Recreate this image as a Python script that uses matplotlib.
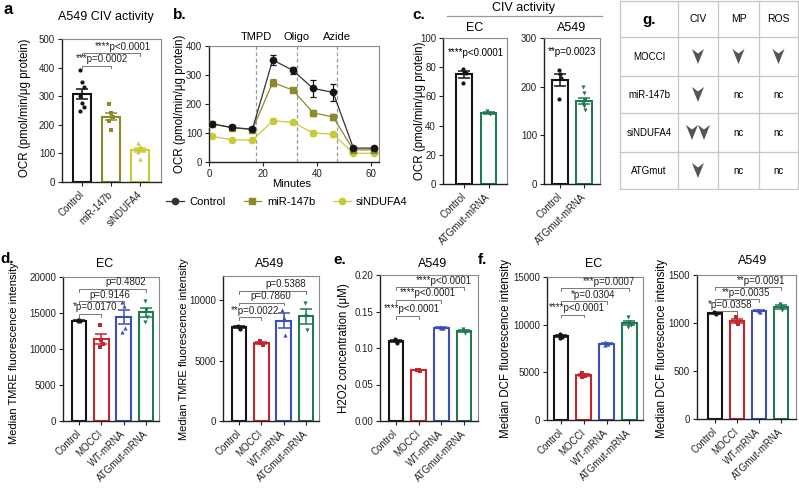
import numpy as np
import matplotlib
matplotlib.use("Agg")
import matplotlib.pyplot as plt
from matplotlib.lines import Line2D
from matplotlib.patches import Polygon

plt.rcParams["font.family"] = ["Liberation Sans", "DejaVu Sans"]

# ── Colours ────────────────────────────────────────
BLACK  = "#151515"
RED    = "#c1272d"
BLUE   = "#3c4fb5"
GREEN  = "#1f7a53"
OLIVE  = "#8c8a2c"
YELLOW = "#c8ca38"
GREY   = "#777777"

# ── Panel a : A549 CIV activity ───────────────────
A_LABELS = ["Control", "miR-147b", "siNDUFA4"]
A_MEANS  = [307, 229, 113]
A_SEMS   = [17, 12, 7]
A_POINTS = [[392, 348, 333, 299, 276, 262, 247],
            [273, 243, 228, 215, 182],
            [136, 126, 116, 104, 80]]
A_BRACKETS = [(0, 1, "***p=0.0002", 407), (0, 2, "****p<0.0001", 450)]

# ── Panel b : OCR time course ──────────────────────
B_TIME     = [1.1, 8.5, 16.1, 23.6, 31.1, 38.5, 46.0, 53.5, 61.0]
B_CONTROL  = [132, 119, 113, 352, 316, 254, 240, 48, 48]
B_CONT_ERR = [4, 4, 4, 18, 12, 30, 28, 4, 4]
B_MIR      = [131, 118, 112, 274, 248, 170, 155, 42, 42]
B_MIR_ERR  = [3, 3, 3, 12, 8, 10, 10, 3, 3]
B_SI       = [88, 77, 75, 142, 137, 100, 96, 30, 30]
B_SI_ERR   = [3, 3, 3, 8, 6, 10, 9, 2, 2]
B_INJECT   = [("TMPD", 17.4), ("Oligo", 32.6), ("Azide", 47.4)]

# ── Panel c : CIV activity EC / A549 ───────────────
C_LABELS     = ["Control", "ATGmut-mRNA"]
C_EC_MEANS   = [75, 48.5]
C_EC_SEMS    = [2.2, 0.8]
C_EC_POINTS  = [[78.5, 77, 76, 69.5], [50, 48.8, 47.8]]
C_A549_MEANS = [213, 171]
C_A549_SEMS  = [12, 6]
C_A549_POINTS = [[235, 225, 218, 175], [200, 188, 172, 165, 160, 153]]

# ── Panels d-f : MOCCI / WT / ATGmut ───────────────
G_LABELS = ["Control", "MOCCI", "WT-mRNA", "ATGmut-mRNA"]

D_EC_MEANS  = [13950, 11400, 14450, 15100]
D_EC_SEMS   = [80, 700, 950, 600]
D_EC_POINTS = [[14050, 13980, 13920, 13860], [13300, 11300, 10700, 10300],
               [16500, 16000, 12900, 12400], [16700, 15400, 14500, 13800]]
D_EC_BRACKETS = [(0, 1, "*p=0.0170", 14900), (0, 2, "p=0.9146", 16650),
                 (0, 3, "p=0.4802", 18350)]

D_A549_MEANS  = [7750, 6450, 8300, 8650]
D_A549_SEMS   = [80, 90, 620, 650]
D_A549_POINTS = [[7850, 7750, 7650], [6600, 6450, 6300],
                 [9200, 8550, 7150], [9750, 8700, 7500]]
D_A549_BRACKETS = [(0, 1, "**p=0.0022", 8570), (0, 2, "p=0.7860", 9800),
                   (0, 3, "p=0.5388", 10770)]

E_MEANS  = [0.110, 0.0698, 0.128, 0.1235]
E_SEMS   = [0.0015, 0.0005, 0.0007, 0.0018]
E_POINTS = [[0.113, 0.110, 0.107], [0.0705, 0.0698, 0.069],
            [0.129, 0.128, 0.127], [0.126, 0.1235, 0.121]]
E_BRACKETS = [(0, 1, "****p<0.0001", 0.144), (0, 2, "****p<0.0001", 0.166),
              (0, 3, "****p<0.0001", 0.183)]

F_EC_MEANS  = [8800, 4700, 8000, 10200]
F_EC_SEMS   = [100, 80, 70, 230]
F_EC_POINTS = [[9050, 8850, 8750, 8550], [4900, 4750, 4600, 4550],
               [8150, 8050, 7950, 7850], [10800, 10300, 9950, 9800]]
F_EC_BRACKETS = [(0, 1, "****p<0.0001", 11060), (0, 2, "*p=0.0304", 12450),
                 (0, 3, "***p=0.0007", 13850)]

F_A549_MEANS  = [1100, 1018, 1128, 1167]
F_A549_SEMS   = [6, 22, 8, 16]
F_A549_POINTS = [[1110, 1100, 1090], [1060, 1010, 985],
                 [1140, 1130, 1115], [1195, 1165, 1140]]
F_A549_BRACKETS = [(0, 1, "*p=0.0358", 1126), (0, 2, "**p=0.0035", 1250),
                   (0, 3, "**p=0.0091", 1372)]

# ── Panel g : summary table ────────────────────────
T_COLUMNS = ["CIV", "MP", "ROS"]
T_ROWS    = ["MOCCI", "miR-147b", "siNDUFA4", "ATGmut"]
T_CELLS   = [[1, 1, 1], [1, "nc", "nc"], [2, "nc", "nc"], [1, "nc", "nc"]]

GROUP_COLORS  = [BLACK, RED, BLUE, GREEN]
GROUP_MARKERS = ["o", "s", "^", "v"]

W, H = 799, 490
fig = plt.figure(figsize=(W / 100, H / 100), dpi=100)


def axes_px(left, top, right, bottom):
    return fig.add_axes([left / W, 1 - bottom / H, (right - left) / W, (bottom - top) / H])


def text_px(x, y, s, **kw):
    kw.setdefault("ha", "center")
    kw.setdefault("va", "center")
    fig.text(x / W, 1 - y / H, s, **kw)


def style_axes(ax):
    for side in ["left", "bottom"]:
        ax.spines[side].set_color("#222222")
        ax.spines[side].set_linewidth(1.0)
    for side in ["top", "right"]:
        ax.spines[side].set_color("#8a8a8a")
        ax.spines[side].set_linewidth(0.8)
    ax.tick_params(direction="out", length=3, width=0.8, labelsize=7, pad=2,
                   colors="#222222")


def bar_panel(ax, labels, means, sems, points, colors, markers, ylim, yticks,
              brackets=(), width=0.65, xlim=(-0.72, 3.58), yfmt=None):
    x = np.arange(len(labels))
    for i in x:
        ax.bar(i, means[i], width, facecolor="white", edgecolor=colors[i],
               linewidth=1.5, zorder=2)
        pts = points[i]
        offs = np.array([((k % 3) - 1) * 0.06 for k in range(len(pts))])
        ax.scatter(i + offs, pts, s=9, marker=markers[i], color=colors[i],
                   zorder=3, linewidths=0)
        ax.errorbar(i, means[i], yerr=sems[i], fmt="none", ecolor=colors[i],
                    capsize=4.5, elinewidth=1.1, capthick=1.1, zorder=4)
    ax.set_xlim(xlim)
    ax.set_ylim(ylim)
    ax.set_yticks(yticks)
    if yfmt:
        ax.set_yticklabels([yfmt.format(t) for t in yticks])
    ax.set_xticks(x)
    ax.set_xticklabels(labels, rotation=45, ha="right", va="center",
                       rotation_mode="anchor", fontsize=8.5)
    style_axes(ax)
    ax.tick_params(axis="x", pad=5)
    span = ylim[1] - ylim[0]
    for i, j, label, y in brackets:
        d = span * 0.02
        ax.plot([i, i, j, j], [y - d, y, y, y - d], color=GREY, lw=0.7, zorder=1)
        ax.annotate(label, (i + 0.7 * (j - i), y), xytext=(0, 1.0),
                    textcoords="offset points", ha="center", va="bottom",
                    fontsize=7, color="#222222")


# ── a ──────────────────────────────────────────────
ax_a = axes_px(62, 39, 161, 182)
bar_panel(ax_a, A_LABELS, A_MEANS, A_SEMS, A_POINTS, [BLACK, OLIVE, YELLOW],
          ["o", "s", "^"], (0, 500), [0, 100, 200, 300, 400, 500], A_BRACKETS,
          width=0.6, xlim=(-0.69, 2.72))
text_px(4, 9, "a", ha="left", fontsize=12, fontweight="bold")
text_px(106, 17, "A549 CIV activity", fontsize=9)
text_px(25, 108, "OCR (pmol/min/μg protein)", rotation=90, fontsize=8.3)

# ── b ──────────────────────────────────────────────
ax_b = axes_px(209, 46, 379, 162)
series = [(B_SI, B_SI_ERR, YELLOW, YELLOW, "o", "siNDUFA4"),
          (B_MIR, B_MIR_ERR, OLIVE, OLIVE, "s", "miR-147b"),
          (B_CONTROL, B_CONT_ERR, BLACK, "#333333", "o", "Control")]
for z, (vals, errs, mcol, lcol, mk, name) in enumerate(series):
    ax_b.plot(B_TIME, vals, color=lcol, lw=0.9, zorder=2 + z)
    ax_b.errorbar(B_TIME, vals, yerr=errs, fmt=mk, color=mcol, ms=4.5,
                  ecolor=mcol, elinewidth=0.9, capsize=2.5, capthick=0.9,
                  zorder=2 + z)
for name, t in B_INJECT:
    ax_b.axvline(t, color="#9a9a9a", lw=0.9, ls=(0, (3, 2)), zorder=1)
    ax_b.annotate(name, (t, 400), xytext=(0, 3), textcoords="offset points",
                  ha="center", va="bottom", fontsize=8, annotation_clip=False)
ax_b.set_xlim(0, 63)
ax_b.set_ylim(0, 400)
ax_b.set_xticks([0, 20, 40, 60])
ax_b.set_yticks([0, 100, 200, 300, 400])
style_axes(ax_b)
text_px(173, 15, "b.", ha="left", fontsize=11, fontweight="bold")
text_px(180, 104, "OCR (pmol/min/μg protein)", rotation=90, fontsize=8.3)
text_px(292, 184, "Minutes", fontsize=8)
handles = [Line2D([], [], color="#333333", marker="o", ms=4.5, lw=0.9),
           Line2D([], [], color=OLIVE, marker="s", ms=4.5, lw=0.9),
           Line2D([], [], color=YELLOW, marker="o", ms=4.5, lw=0.9)]
fig.legend(handles, ["Control", "miR-147b", "siNDUFA4"], loc="center",
           bbox_to_anchor=(287 / W, 1 - 202 / H), ncol=3, frameon=False,
           fontsize=8, handlelength=1.6, handletextpad=0.5, columnspacing=1.6)

# ── c ──────────────────────────────────────────────
ax_c1 = axes_px(443, 38, 507, 184)
bar_panel(ax_c1, C_LABELS, C_EC_MEANS, C_EC_SEMS, C_EC_POINTS, [BLACK, GREEN],
          ["o", "v"], (0, 100), [0, 20, 40, 60, 80, 100], width=0.63,
          xlim=(-0.86, 1.75))
ax_c1.text(0.5, 90, "****p<0.0001", ha="center", va="center", fontsize=7)
ax_c2 = axes_px(544, 38, 600, 184)
bar_panel(ax_c2, C_LABELS, C_A549_MEANS, C_A549_SEMS, C_A549_POINTS,
          [BLACK, GREEN], ["o", "v"], (0, 300), [0, 100, 200, 300], width=0.63,
          xlim=(-0.67, 1.67))
ax_c2.text(0.5, 272, "**p=0.0023", ha="center", va="center", fontsize=7)
text_px(412, 15, "c.", ha="left", fontsize=11, fontweight="bold")
text_px(523, 8, "CIV activity", fontsize=9)
fig.add_artist(Line2D([447 / W, 602 / W], [1 - 16 / H, 1 - 16 / H],
                      color="#9a9a9a", lw=0.9))
text_px(475, 28, "EC", fontsize=9)
text_px(572, 28, "A549", fontsize=9)
text_px(420, 111, "OCR (pmol/min/μg protein)", rotation=90, fontsize=8.3)

# ── d ──────────────────────────────────────────────
ax_d1 = axes_px(63, 277, 159, 421)
bar_panel(ax_d1, G_LABELS, D_EC_MEANS, D_EC_SEMS, D_EC_POINTS, GROUP_COLORS,
          GROUP_MARKERS, (0, 20000), [0, 5000, 10000, 15000, 20000], D_EC_BRACKETS)
ax_d2 = axes_px(223, 276, 319, 421)
bar_panel(ax_d2, G_LABELS, D_A549_MEANS, D_A549_SEMS, D_A549_POINTS,
          GROUP_COLORS, GROUP_MARKERS, (0, 12000), [0, 5000, 10000],
          D_A549_BRACKETS)
text_px(0, 259, "d.", ha="left", fontsize=11, fontweight="bold")
text_px(105, 264, "EC", fontsize=9)
text_px(270, 264, "A549", fontsize=9)
text_px(14, 353, "Median TMRE fluorescence intensity", rotation=90, fontsize=8)
text_px(184, 349, "Median TMRE fluorescence intensity", rotation=90, fontsize=8)

# ── e ──────────────────────────────────────────────
ax_e = axes_px(380, 275, 478, 421)
bar_panel(ax_e, G_LABELS, E_MEANS, E_SEMS, E_POINTS, GROUP_COLORS,
          GROUP_MARKERS, (0, 0.2), [0, 0.05, 0.10, 0.15, 0.20], E_BRACKETS,
          xlim=(-0.7, 3.62), yfmt="{:.2f}")
text_px(333, 260, "e.", ha="left", fontsize=11, fontweight="bold")
text_px(433, 264, "A549", fontsize=9)
text_px(344, 348, "H2O2 concentration (μM)", rotation=90, fontsize=8.3)

# ── f ──────────────────────────────────────────────
ax_f1 = axes_px(547, 277, 643, 420)
bar_panel(ax_f1, G_LABELS, F_EC_MEANS, F_EC_SEMS, F_EC_POINTS, GROUP_COLORS,
          GROUP_MARKERS, (0, 15000), [0, 5000, 10000, 15000], F_EC_BRACKETS,
          xlim=(-0.62, 3.6))
ax_f2 = axes_px(697, 275, 796, 419)
bar_panel(ax_f2, G_LABELS, F_A549_MEANS, F_A549_SEMS, F_A549_POINTS,
          GROUP_COLORS, GROUP_MARKERS, (0, 1500), [0, 500, 1000, 1500],
          F_A549_BRACKETS, xlim=(-0.82, 3.68))
text_px(478, 260, "f.", ha="left", fontsize=11, fontweight="bold")
text_px(594, 264, "EC", fontsize=9)
text_px(753, 261, "A549", fontsize=9)
text_px(506, 348, "Median DCF fluorescence intensity", rotation=90, fontsize=8.3)
text_px(662, 348, "Median DCF fluorescence intensity", rotation=90, fontsize=8.3)

# ── g (table drawn in pixel coordinates) ───────────
ax_g = axes_px(619, 0, 799, 190)
ax_g.set_xlim(619, 799)
ax_g.set_ylim(190, 0)
ax_g.axis("off")
col_edges = [620, 678, 718, 759, 798]
row_edges = [0.6, 37, 76, 113, 152, 189]
for xe in col_edges:
    ax_g.plot([xe, xe], [row_edges[0], row_edges[-1]], color="#c6c6c6", lw=0.9)
for ye in row_edges:
    ax_g.plot([col_edges[0], col_edges[-1]], [ye, ye], color="#c6c6c6", lw=0.9)
ax_g.text(649, 20, "g.", ha="center", va="center", fontsize=11, fontweight="bold")
col_mid = [(col_edges[k] + col_edges[k + 1]) / 2 for k in range(4)]
row_mid = [(row_edges[k] + row_edges[k + 1]) / 2 for k in range(5)]
for c, name in enumerate(T_COLUMNS):
    ax_g.text(col_mid[c + 1], row_mid[0], name, ha="center", va="center", fontsize=7.5)


def arrowhead(cx, cy):
    pts = [(cx - 6, cy - 7.5), (cx, cy - 3), (cx + 6, cy - 7.5), (cx, cy + 7.5)]
    ax_g.add_patch(Polygon(pts, closed=True, facecolor="#555555", edgecolor="none"))


for r, name in enumerate(T_ROWS):
    ax_g.text(col_mid[0], row_mid[r + 1], name, ha="center", va="center", fontsize=7)
    for c, cell in enumerate(T_CELLS[r]):
        cx, cy = col_mid[c + 1], row_mid[r + 1]
        if cell == "nc":
            ax_g.text(cx, cy, "nc", ha="center", va="center", fontsize=7)
        elif cell == 2:
            arrowhead(cx - 6, cy)
            arrowhead(cx + 6, cy)
        else:
            arrowhead(cx, cy)

fig.savefig("out.png", dpi=100, facecolor="white")
